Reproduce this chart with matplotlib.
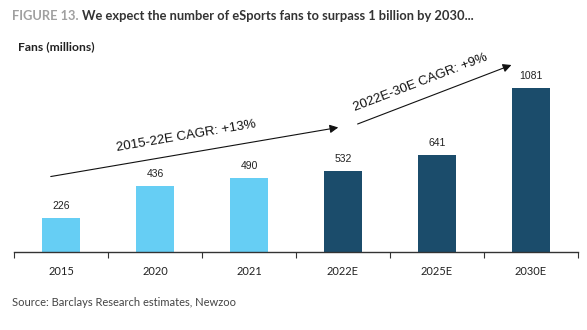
import matplotlib
matplotlib.use("Agg")
import matplotlib.pyplot as plt

categories = ["2015", "2020", "2021", "2022E", "2025E", "2030E"]
fans = [226, 436, 490, 532, 641, 1081]
is_estimate = [False, False, False, True, True, True]

LIGHT = "#66CEF4"
DARK = "#1B4C6B"

fig = plt.figure(figsize=(5.87, 3.30), dpi=100)
W, H = 587, 330
ax = fig.add_axes([14 / W, 1 - 252 / H, (578 - 14) / W, (252 - 60) / H])

x = list(range(len(categories)))
colors = [DARK if e else LIGHT for e in is_estimate]
ax.bar(x, fans, width=0.4, color=colors, zorder=2)
for xi, v in zip(x, fans):
    ax.annotate(str(v), (xi, v), xytext=(0, 5), textcoords="offset points",
                ha="center", va="bottom", fontsize=7.5, family="Liberation Sans",
                color="#222222")

ax.set_xlim(-0.5, len(categories) - 0.5)
ax.set_ylim(0, 1265)
ax.set_xticks([i - 0.5 for i in range(len(categories) + 1)])
ax.set_xticklabels([])
ax.set_xticks(x, minor=True)
ax.set_xticklabels(categories, minor=True, fontsize=8, family="Lato", color="#222222")
ax.tick_params(axis="x", which="major", length=4, width=0.8, color="#333333", direction="out")
ax.tick_params(axis="x", which="minor", length=0, pad=10)
ax.set_yticks([])
for s in ["top", "right", "left"]:
    ax.spines[s].set_visible(False)
ax.spines["bottom"].set_color("#333333")
ax.spines["bottom"].set_linewidth(1.0)

# Arrows (figure pixel coordinates)
def fp(px, py):
    return (px / W, 1 - py / H)

fig.add_artist(matplotlib.patches.FancyArrowPatch(
    fp(48, 177), fp(341, 127), transform=fig.transFigure,
    arrowstyle="-|>,head_length=5,head_width=2.5", color="#111111", lw=0.8))
fig.add_artist(matplotlib.patches.FancyArrowPatch(
    fp(355, 125), fp(514, 64), transform=fig.transFigure,
    arrowstyle="-|>,head_length=5,head_width=2.5", color="#111111", lw=0.8))

fig.text(*fp(186, 136), "2015-22E CAGR: +13%", rotation=9.7, ha="center", va="center",
         fontsize=9.5, family="Liberation Sans", color="#111111", rotation_mode="anchor")
fig.text(*fp(421, 83), "2022E-30E CAGR: +9%", rotation=21, ha="center", va="center",
         fontsize=9.5, family="Liberation Sans", color="#111111", rotation_mode="anchor")

# Title
t1 = fig.text(12 / W, 1 - 16 / H, "FIGURE 13.", fontsize=9.3, family="Lato",
              fontweight="bold", color="#a0a0a0", va="center", ha="left")
fig.canvas.draw()
bb = t1.get_window_extent()
fig.text((bb.x1 + 4) / W, 1 - 16 / H,
         "We expect the number of eSports fans to surpass 1 billion by 2030...",
         fontsize=9.3, family="Lato", fontweight="bold", color="#333333",
         va="center", ha="left")
fig.text(18 / W, 1 - 47 / H, "Fans (millions)", fontsize=8.7, family="Lato",
         fontweight="bold", color="#222222", va="center", ha="left")
fig.text(12 / W, 1 - 303 / H, "Source: Barclays Research estimates, Newzoo", fontsize=8,
         family="Lato", color="#444444", va="center", ha="left")

fig.savefig("out.png", dpi=100)
